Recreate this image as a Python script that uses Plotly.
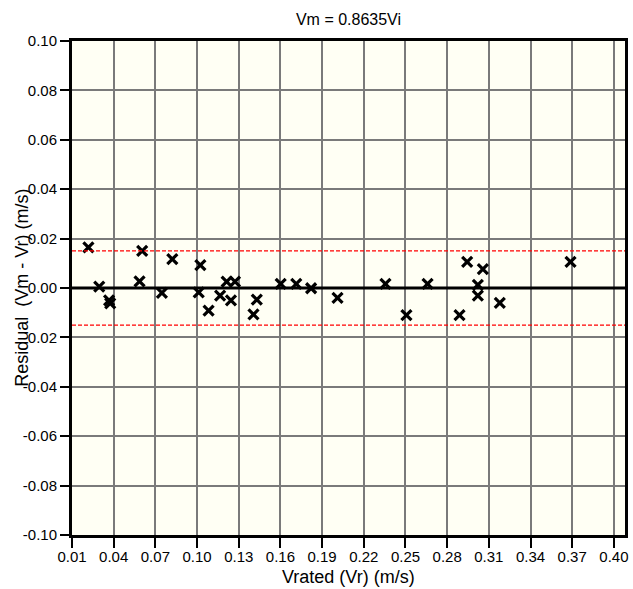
import plotly.graph_objects as go

# Data
vrated = [0.0218, 0.0296, 0.0367, 0.0375, 0.0586, 0.0605, 0.0747, 0.0822,
          0.1024, 0.1012, 0.1083, 0.1166, 0.1213, 0.1273, 0.1244, 0.1430,
          0.1406, 0.1602, 0.1714, 0.1821, 0.2011, 0.2356, 0.2507, 0.2659,
          0.2944, 0.3057, 0.3021, 0.3021, 0.2889, 0.3179, 0.3688]
residual = [0.0164, 0.0006, -0.0050, -0.0062, 0.0027, 0.0150, -0.0020, 0.0117,
            0.0093, -0.0018, -0.0092, -0.0031, 0.0026, 0.0026, -0.0050, -0.0047,
            -0.0107, 0.0017, 0.0017, -0.0001, -0.0040, 0.0017, -0.0110, 0.0017,
            0.0106, 0.0076, 0.0013, -0.0031, -0.0110, -0.0060, 0.0106]
limit = 0.015

x_ticks = [0.01, 0.04, 0.07, 0.10, 0.13, 0.16, 0.19, 0.22, 0.25, 0.28, 0.31, 0.34, 0.37, 0.40]
x_ticktext = ["0.01", "0.04", "0.07", "0.10", "0.13", "0.16", "0.19", "0.22", "0.25",
              "0.28", "0.31", "0.34", "0.37", "0.40"]
y_ticks = [0.10, 0.08, 0.06, 0.04, 0.02, 0.0, -0.02, -0.04, -0.06, -0.08, -0.10]
y_ticktext = ["0.10", "0.08", "0.06", "0.04", "0.02", "0.00", "-0.02", "-0.04",
              "-0.06", "-0.08", "-0.10"]

title_text = "Vm = 0.8635Vi"
x_title = "Vrated (Vr) (m/s)"
y_title = "Residual  (Vm - Vr) (m/s)"

x_range = [0.01, 0.408]
y_range = [-0.10, 0.10]

FONT = "Liberation Sans, Arial, sans-serif"

fig = go.Figure()

fig.add_trace(go.Scatter(
    x=vrated, y=residual, mode="markers",
    marker=dict(symbol="x-thin", size=10, color="black",
                line=dict(color="black", width=3.2)),
    showlegend=False, hoverinfo="skip"))

# Zero line and +/- limit lines
fig.add_shape(type="line", xref="paper", x0=0, x1=1, y0=0, y1=0,
              line=dict(color="black", width=3))
for v in (limit, -limit):
    fig.add_shape(type="line", xref="paper", x0=0, x1=1, y0=v, y1=v,
                  line=dict(color="#ff0000", width=1.3, dash="4px,2px"))

fig.update_layout(
    width=633, height=589,
    margin=dict(l=72, r=5, t=41, b=54),
    paper_bgcolor="white",
    plot_bgcolor="#fffff4",
    font=dict(family=FONT, color="black", size=15),
    title=dict(text=title_text, x=0.5, xref="paper", y=1 - 19.5 / 589,
               yref="container", xanchor="center", yanchor="middle",
               font=dict(size=16, family=FONT)),
    annotations=[
        dict(text=x_title, xref="paper", yref="paper", x=0.5, y=-(577 - 535) / 494,
             xanchor="center", yanchor="middle", showarrow=False,
             font=dict(size=18, family=FONT)),
        dict(text=y_title, xref="paper", yref="paper", x=(21.5 - 72) / 556, y=0.5,
             xanchor="center", yanchor="middle", showarrow=False, textangle=-90,
             font=dict(size=18, family=FONT)),
    ],
)

fig.update_xaxes(range=x_range, tickvals=x_ticks, ticktext=x_ticktext,
                 showgrid=True, gridcolor="#7a7a7a", gridwidth=1.6,
                 showline=True, linecolor="black", linewidth=3, mirror=True,
                 ticks="outside", ticklen=10, tickwidth=1.5, tickcolor="black",
                 ticklabelstandoff=-4,
                 zeroline=False, tickfont=dict(size=15))
fig.update_yaxes(range=y_range, tickvals=y_ticks, ticktext=y_ticktext,
                 showgrid=True, gridcolor="#7a7a7a", gridwidth=1.6,
                 showline=True, linecolor="black", linewidth=3, mirror=True,
                 ticks="outside", ticklen=9, tickwidth=1.5, tickcolor="black",
                 zeroline=False, tickfont=dict(size=15))

fig.write_html("out.html")
